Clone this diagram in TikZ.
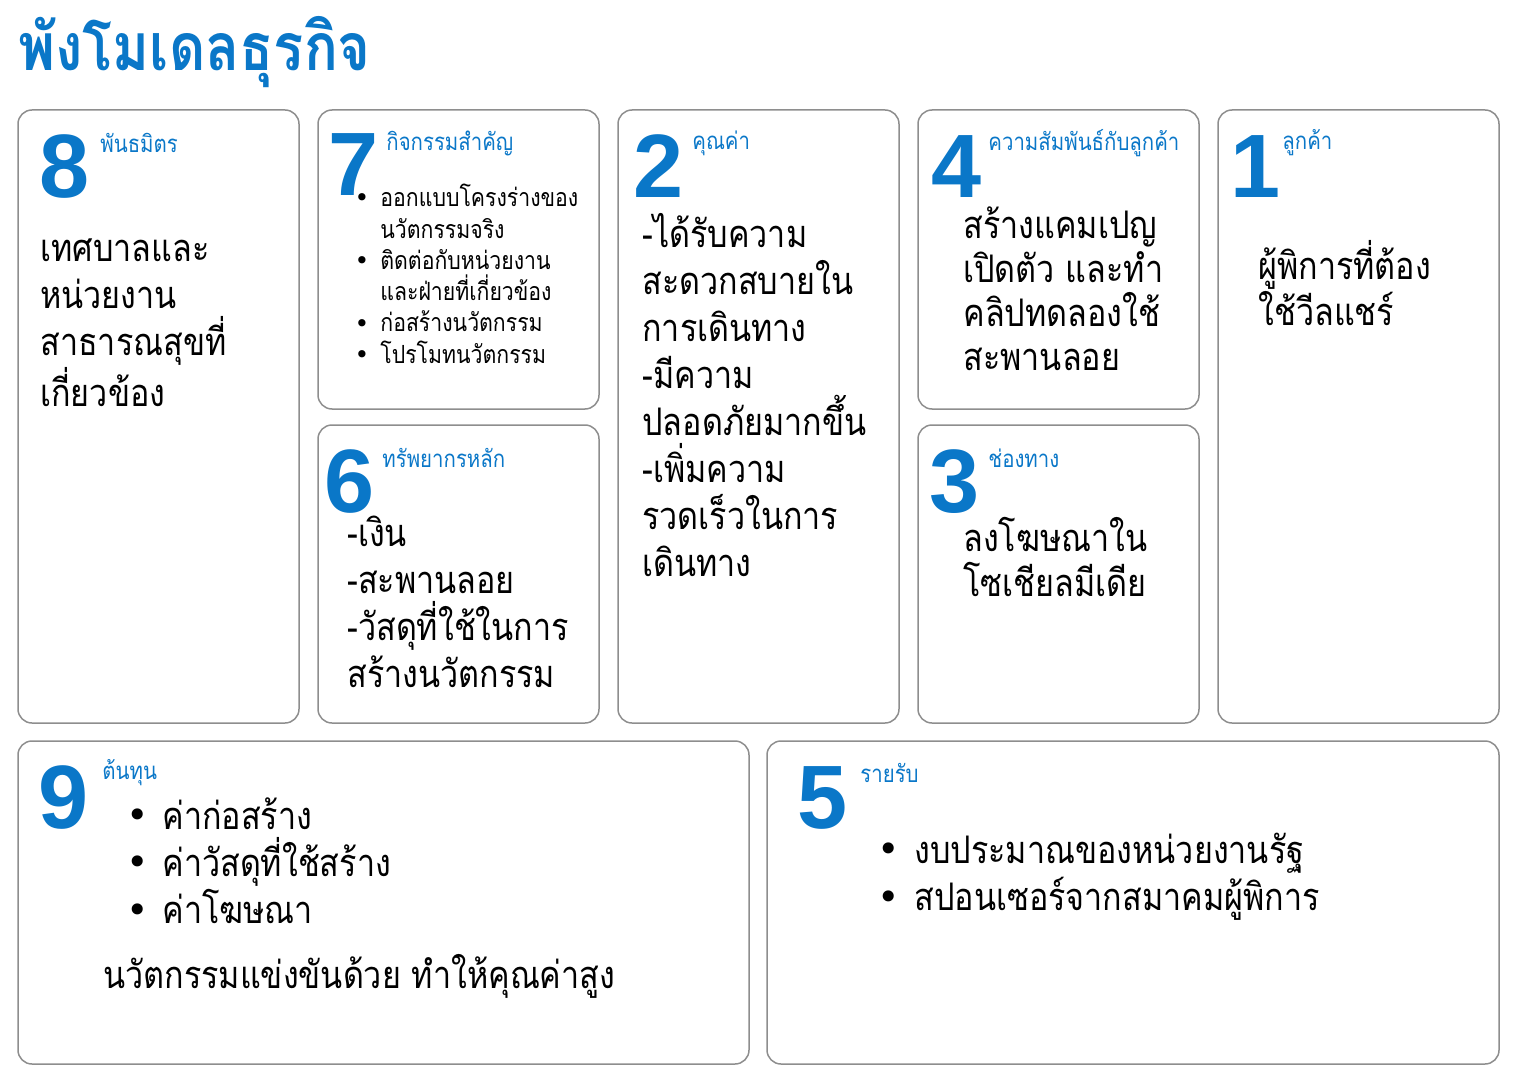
\documentclass[tikz,border=0pt]{standalone}
\usepackage{fontspec}
\setmainfont[Script=Thai,FakeStretch=0.85]{Loma}
\newfontfamily\numfont{Liberation Sans}
\newfontfamily\symfont{DejaVu Sans}
\definecolor{canvasblue}{HTML}{0A77C8}
\definecolor{framegray}{HTML}{8E8E8E}
\newcommand{\bul}{{\symfont •}}

\begin{document}
\begin{tikzpicture}[x=0.5pt,y=-0.5pt,
    boxframe/.style={draw=framegray,line width=0.75pt,rounded corners=7pt},
    bignum/.style={anchor=base west,inner sep=0pt,text=canvasblue,font=\numfont\bfseries\fontsize{45}{45}\selectfont},
    headtxt/.style={anchor=west,inner sep=0pt,text=canvasblue,font=\fontsize{12}{14}\selectfont},
    bodytxt/.style={anchor=base west,inner sep=0pt,align=left,font=\fontsize{19}{23.5}\selectfont},
    smalltxt/.style={anchor=base west,inner sep=0pt,align=left,font=\fontsize{12.5}{15.6}\selectfont},
    bulbig/.style={anchor=base,inner sep=0pt,font=\fontsize{19}{23.5}\selectfont},
    bulsmall/.style={anchor=base,inner sep=0pt,font=\fontsize{12.5}{15.6}\selectfont}]
    \useasboundingbox (0,0) rectangle (1518,1080);

    % title
    \node[anchor=west,inner sep=0pt,text=canvasblue,font=\bfseries\fontsize{33}{35}\selectfont] (title) at (18,52) {พังโมเดลธุรกิจ};

    % frames
    \draw[boxframe] (18,110) rectangle (299,723);
    \draw[boxframe] (318,110) rectangle (599,409);
    \draw[boxframe] (318,425) rectangle (599,723);
    \draw[boxframe] (618,110) rectangle (899,723);
    \draw[boxframe] (918,110) rectangle (1199,409);
    \draw[boxframe] (918,425) rectangle (1199,723);
    \draw[boxframe] (1218,110) rectangle (1499,723);
    \draw[boxframe] (18,741) rectangle (749,1064);
    \draw[boxframe] (767,741) rectangle (1499,1064);

    % 8 partners (text anchored at its last line)
    \node[bignum] (n8) at (39,198) {8};
    \node[headtxt] (h8) at (100,143) {พันธมิตร};
    \node[bodytxt] (t8) at (40,406) {เทศบาลและ\\หน่วยงาน\\สาธารณสุขที่\\เกี่ยวข้อง};

    % 7 key activities
    \node[bignum] (n7) at (328,196) {7};
    \node[headtxt] (h7) at (386,143) {กิจกรรมสำคัญ};
    \node[smalltxt] (t7) at (380,363) {ออกแบบโครงร่างของ\\นวัตกรรมจริง\\ติดต่อกับหน่วยงาน\\และฝ่ายที่เกี่ยวข้อง\\ก่อสร้างนวัตกรรม\\โปรโมทนวัตกรรม};
    \foreach \yy/\nm in {207/a,270/b,332/c,363/d}
        \node[bulsmall] (b7\nm) at (362,\yy) {\bul};

    % 6 key resources
    \node[bignum] (n6) at (324,512) {6};
    \node[headtxt] (h6) at (382,458) {ทรัพยากรหลัก};
    \node[bodytxt] (t6) at (347,687) {-เงิน\\-สะพานลอย\\-วัสดุที่ใช้ในการ\\สร้างนวัตกรรม};

    % 2 value
    \node[bignum] (n2) at (633,198) {2};
    \node[headtxt] (h2) at (692,143) {คุณค่า};
    \node[bodytxt] (t2) at (642,576) {-ได้รับความ\\สะดวกสบายใน\\การเดินทาง\\-มีความ\\ปลอดภัยมากขึ้น\\-เพิ่มความ\\รวดเร็วในการ\\เดินทาง};

    % 4 customer relationships
    \node[bignum] (n4) at (931,198) {4};
    \node[headtxt] (h4) at (988,143) {ความสัมพันธ์กับลูกค้า};
    \node[bodytxt,font=\fontsize{19}{22}\selectfont] (t4) at (963,370) {สร้างแคมเปญ\\เปิดตัว และทำ\\คลิปทดลองใช้\\สะพานลอย};

    % 3 channels
    \node[bignum] (n3) at (929,512) {3};
    \node[headtxt] (h3) at (988,458) {ช่องทาง};
    \node[bodytxt,font=\fontsize{19}{22.5}\selectfont] (t3) at (963,596) {ลงโฆษณาใน\\โซเชียลมีเดีย};

    % 1 customers
    \node[bignum] (n1) at (1230,198) {1};
    \node[headtxt] (h1) at (1282,143) {ลูกค้า};
    \node[bodytxt,font=\fontsize{19}{22}\selectfont] (t1) at (1258,326) {ผู้พิการที่ต้อง\\ใช้วีลแชร์};

    % 9 costs
    \node[bignum] (n9) at (38,828) {9};
    \node[headtxt] (h9) at (102,773) {ต้นทุน};
    \node[bodytxt] (t9) at (162,923) {ค่าก่อสร้าง\\ค่าวัสดุที่ใช้สร้าง\\ค่าโฆษณา};
    \foreach \yy/\nm in {828/a,875/b,923/c}
        \node[bulbig] (b9\nm) at (138,\yy) {\bul};
    \node[bodytxt] (c9) at (103,988) {นวัตกรรมแข่งขันด้วย ทำให้คุณค่าสูง};

    % 5 revenue
    \node[bignum] (n5) at (797,828) {5};
    \node[headtxt] (h5) at (860,773) {รายรับ};
    \node[bodytxt] (t5) at (914,910) {งบประมาณของหน่วยงานรัฐ\\สปอนเซอร์จากสมาคมผู้พิการ};
    \foreach \yy/\nm in {862/a,910/b}
        \node[bulbig] (b5\nm) at (889,\yy) {\bul};
\end{tikzpicture}
\end{document}
